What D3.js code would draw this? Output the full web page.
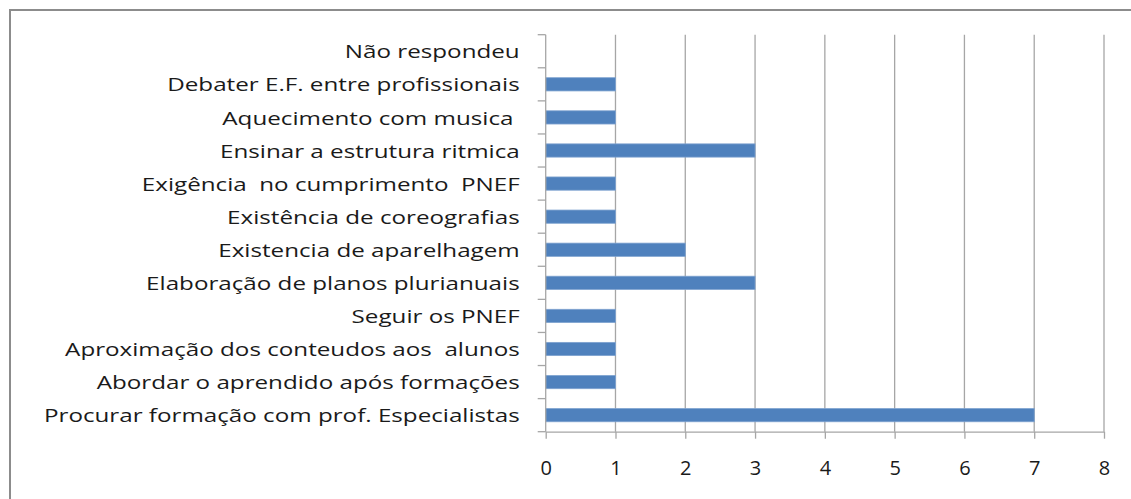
<!DOCTYPE html>
<meta charset="utf-8">
<title>Chart</title>
<script src="https://d3js.org/d3.v7.min.js"></script>
<style>
  body { margin: 0; background: #fff; }
</style>
<body>
<div id="my_dataviz"></div>
<script>
// categories, top to bottom as shown
var categories = [
  "Não respondeu",
  "Debater E.F. entre profissionais",
  "Aquecimento com musica ",
  "Ensinar a estrutura ritmica",
  "Exigência  no cumprimento  PNEF",
  "Existência de coreografias",
  "Existencia de aparelhagem",
  "Elaboração de planos plurianuais",
  "Seguir os PNEF",
  "Aproximação dos conteudos aos  alunos",
  "Abordar o aprendido após formações",
  "Procurar formação com prof. Especialistas"
];
var values = [0, 1, 1, 3, 1, 1, 2, 3, 1, 1, 1, 7];
var ticks = [0, 1, 2, 3, 4, 5, 6, 7, 8];

var W = 1131, H = 499;
var margin = {top: 34.7, right: 27, bottom: 67.3, left: 545.7};
var width = W - margin.left - margin.right,
    height = H - margin.top - margin.bottom;

var svg = d3.select("#my_dataviz")
  .append("svg")
    .attr("width", W)
    .attr("height", H);

// outer border
svg.append("rect")
  .attr("x", 10).attr("y", 10)
  .attr("width", W + 10).attr("height", H + 10)
  .attr("fill", "none")
  .attr("stroke", "#8c8c8c")
  .attr("stroke-width", 2);

var g = svg.append("g")
  .attr("transform", "translate(" + margin.left + "," + margin.top + ")");

var x = d3.scaleLinear().domain([0, 8]).range([0, width]);
var y = d3.scaleBand().domain(categories).range([0, height]).paddingInner(0.6).paddingOuter(0.3);

// vertical grid lines
g.append("g")
  .selectAll("line")
  .data(ticks.slice(1))
  .join("line")
  .attr("x1", d => x(d)).attr("x2", d => x(d))
  .attr("y1", 0).attr("y2", height)
  .attr("stroke", "#a6a6a6")
  .attr("stroke-width", 1.3);

// bars
g.append("g")
  .selectAll("rect")
  .data(values)
  .join("rect")
  .attr("x", x(0))
  .attr("y", (d, i) => y(categories[i]))
  .attr("width", d => x(d) - x(0))
  .attr("height", y.bandwidth())
  .attr("fill", "#4f81bd")
  .attr("stroke", d => d > 0 ? "#7fa3d0" : "none")
  .attr("stroke-width", 0.8);

// left axis with ticks at band boundaries
var yb = d3.range(categories.length + 1).map(i => i * height / categories.length);
g.append("line")
  .attr("x1", 0).attr("x2", 0).attr("y1", 0).attr("y2", height)
  .attr("stroke", "#a6a6a6").attr("stroke-width", 1.3);
g.append("g")
  .selectAll("line")
  .data(yb)
  .join("line")
  .attr("x1", -8).attr("x2", 0)
  .attr("y1", d => d).attr("y2", d => d)
  .attr("stroke", "#a6a6a6").attr("stroke-width", 1.3);

// bottom axis
var xAxis = g.append("g")
  .attr("transform", "translate(0," + height + ")")
  .call(d3.axisBottom(x).tickValues(ticks).tickSize(7).tickPadding(22).tickSizeOuter(0));
xAxis.select(".domain").attr("stroke", "#a6a6a6").attr("stroke-width", 1.3);
xAxis.selectAll(".tick line").attr("stroke", "#a6a6a6").attr("stroke-width", 1.3);
xAxis.selectAll(".tick text")
  .attr("font-family", "Open Sans, sans-serif")
  .attr("font-size", "20px")
  .attr("fill", "#1a1a1a");

// category labels
var bandStep = height / categories.length;
var labels = g.append("g")
  .selectAll("text")
  .data(categories)
  .join("text")
  .attr("x", 0)
  .attr("y", 0)
  .attr("text-anchor", "end")
  .attr("dominant-baseline", "central")
  .attr("font-family", "Open Sans, sans-serif")
  .attr("font-size", "18px")
  .attr("fill", "#1a1a1a")
  .style("white-space", "pre")
  .text(d => d);

// stretch labels horizontally so the longest one spans like the reference
var longest = d3.max(labels.nodes(), n => n.getComputedTextLength());
var sx = 476 / longest;
labels.attr("transform", (d, i) => "translate(-26," + (bandStep * (i + 0.5)) + ") scale(" + sx + ",1)");
</script>
</body>
